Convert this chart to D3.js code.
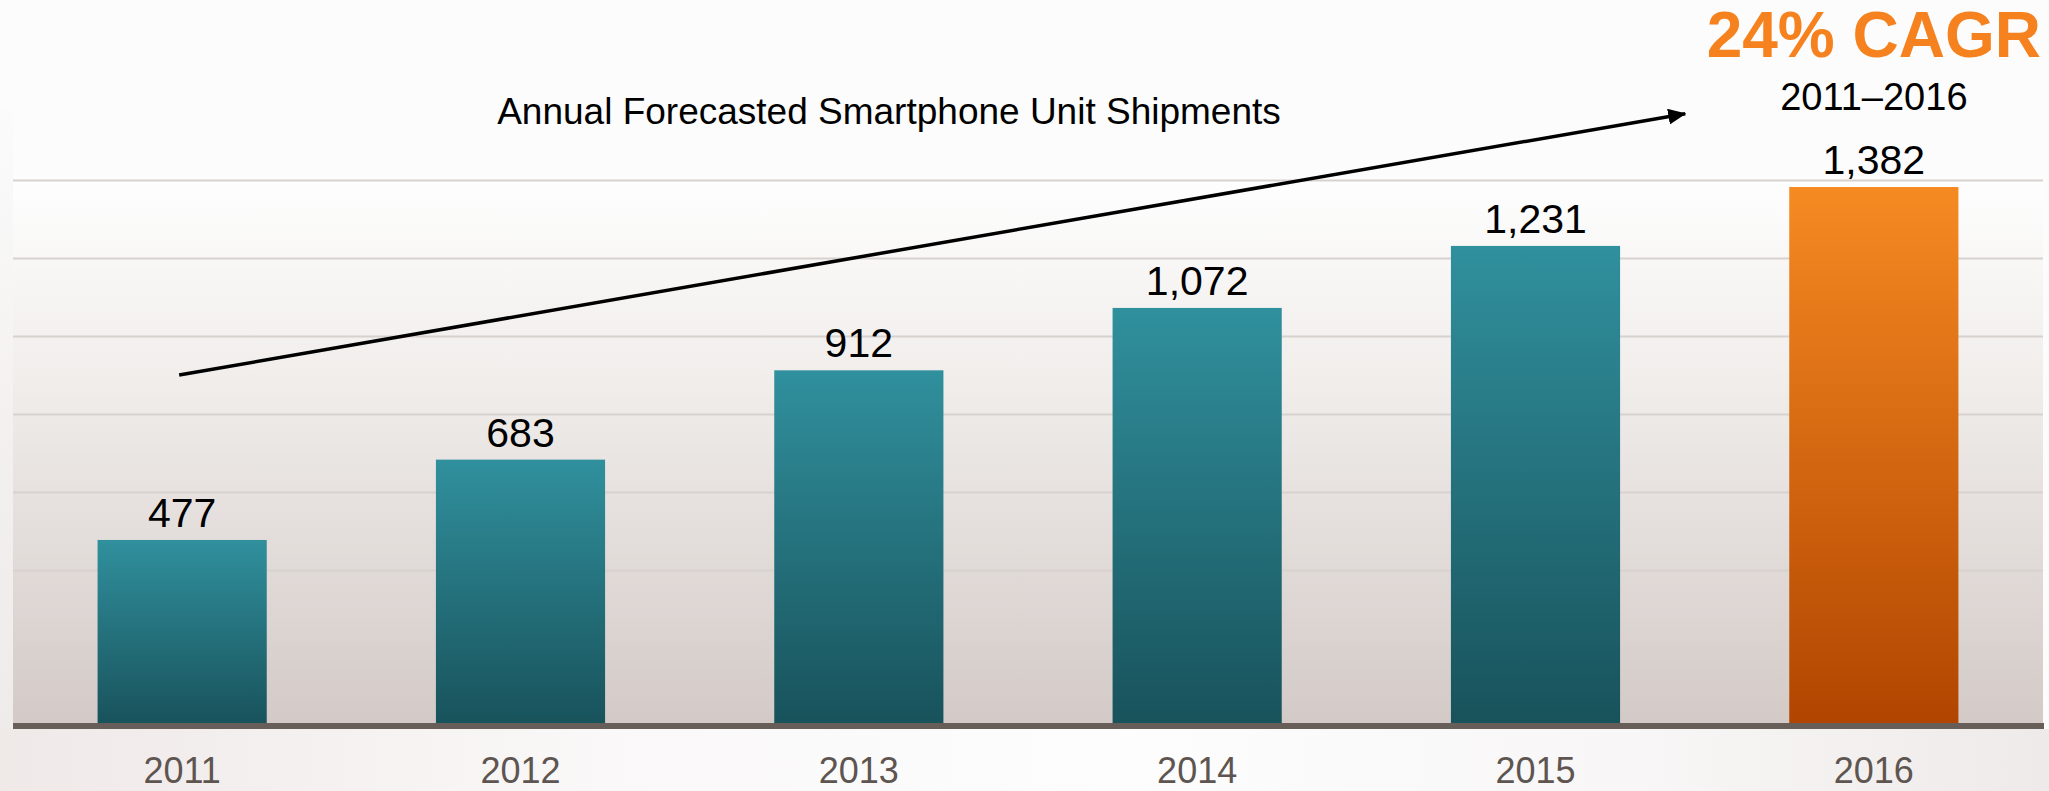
<!DOCTYPE html>
<html>
<head>
<meta charset="utf-8">
<script src="https://cdn.jsdelivr.net/npm/d3@7"></script>
<style>
  html, body { margin: 0; padding: 0; background: #fcfcfc; }
  svg { display: block; font-family: "Liberation Sans", Arial, Helvetica, sans-serif; }
</style>
</head>
<body>
<svg id="chart" width="2049" height="791"></svg>
<script>
// Annual forecasted smartphone unit shipments (millions)
const years = ["2011", "2012", "2013", "2014", "2015", "2016"];
const shipments = [477, 683, 912, 1072, 1231, 1382];
const gridTicks = [200, 400, 600, 800, 1000, 1200, 1400];
const highlightYear = "2016";
const chartTitle = "Annual Forecasted Smartphone Unit Shipments";
const cagrLabel = "24% CAGR";
const cagrPeriod = "2011\u20132016";
// growth arrow runs from 2011 at 900 up to 1570 near 2016
const arrowFrom = ["2011", 900];
const arrowTo = ["2016", 1570];

const W = 2049, H = 791;
const plotLeft = 13, plotRight = 2043, plotTop = 180, plotBottom = 726;

const svg = d3.select("#chart");
const defs = svg.append("defs");

const x = d3.scaleBand().domain(years).range([plotLeft, plotRight])
  .paddingInner(0.5).paddingOuter(0.25);
const y = d3.scaleLinear().domain([0, 1400]).range([plotBottom, plotTop]);

// gradients
function linGrad(id, stops, horizontal) {
  const g = defs.append("linearGradient").attr("id", id)
    .attr("x1", 0).attr("y1", 0)
    .attr("x2", horizontal ? 1 : 0).attr("y2", horizontal ? 0 : 1);
  stops.forEach(s => g.append("stop").attr("offset", s[0]).attr("stop-color", s[1]));
}
linGrad("plotBg", [[0, "#fefefe"], [0.35, "#f1eeec"], [1, "#d3cac7"]]);
linGrad("floorBg", [[0, "#efe9e8"], [0.3, "#faf8f8"], [0.55, "#fdfdfd"], [0.8, "#f8f6f6"], [1, "#eeeae9"]], true);
linGrad("sideBg", [[0, "#fbfbfb"], [0.5, "#f2f0ef"], [1, "#eeeae9"]]);
linGrad("tealBar", [[0, "#30909d"], [1, "#18525b"]]);
linGrad("orangeBar", [[0, "#f68a22"], [1, "#b14500"]]);

// background
svg.append("rect").attr("width", W).attr("height", H).attr("fill", "#fcfcfc");
svg.append("rect").attr("x", 0).attr("y", 110).attr("width", plotLeft).attr("height", H - 110)
  .attr("fill", "url(#sideBg)");
svg.append("rect").attr("x", plotLeft).attr("y", plotTop)
  .attr("width", plotRight - plotLeft).attr("height", plotBottom - plotTop)
  .attr("fill", "url(#plotBg)");
svg.append("rect").attr("x", 0).attr("y", plotBottom + 3)
  .attr("width", W).attr("height", H - plotBottom - 3)
  .attr("fill", "url(#floorBg)");

// horizontal gridlines
const yAxis = d3.axisLeft(y).tickValues(gridTicks)
  .tickSize(-(plotRight - plotLeft)).tickFormat("");
const grid = svg.append("g").attr("transform", `translate(${plotLeft},0)`).call(yAxis);
grid.select(".domain").remove();
grid.selectAll(".tick line").attr("stroke", "#d8d2cf").attr("stroke-width", 2);

// bars
const data = years.map((yr, i) => ({ year: yr, value: shipments[i] }));
svg.append("g").selectAll("rect").data(data).join("rect")
  .attr("x", d => x(d.year))
  .attr("y", d => y(d.value))
  .attr("width", x.bandwidth())
  .attr("height", d => y(0) - y(d.value))
  .attr("fill", d => d.year === highlightYear ? "url(#orangeBar)" : "url(#tealBar)");

// baseline
svg.append("rect").attr("x", plotLeft).attr("y", y(0) - 3)
  .attr("width", plotRight - plotLeft + 1).attr("height", 6).attr("fill", "#675e5a");

// value labels
const fmt = d3.format(",");
svg.append("g").selectAll("text").data(data).join("text")
  .attr("x", d => x(d.year) + x.bandwidth() / 2)
  .attr("y", d => y(d.value) - 13)
  .attr("text-anchor", "middle")
  .attr("font-size", 41)
  .attr("fill", "#000")
  .text(d => fmt(d.value));

// category axis
const xAxis = d3.axisBottom(x).tickSize(0).tickPadding(0);
const xg = svg.append("g").attr("transform", `translate(0,${y(0)})`).call(xAxis);
xg.select(".domain").remove();
xg.selectAll(".tick text")
  .attr("y", 57).attr("dy", 0)
  .attr("font-size", 36)
  .attr("font-family", "'Liberation Sans', Arial, sans-serif")
  .attr("fill", "#5e5551");

// title
svg.append("text")
  .attr("x", 889).attr("y", 124)
  .attr("text-anchor", "middle")
  .attr("font-size", 37)
  .attr("fill", "#000")
  .text(chartTitle);

// growth arrow
defs.append("marker").attr("id", "arrowHead")
  .attr("markerUnits", "userSpaceOnUse")
  .attr("viewBox", "0 0 18 16").attr("refX", 17).attr("refY", 8)
  .attr("markerWidth", 18).attr("markerHeight", 16)
  .attr("orient", "auto")
  .append("path").attr("d", "M0,0 L18,8 L0,16 Z").attr("fill", "#000");

const ax1 = x(arrowFrom[0]) + x.bandwidth() / 2 - 3;
const ax2 = x(arrowTo[0]) - 104;
svg.append("line")
  .attr("x1", ax1).attr("y1", y(arrowFrom[1]))
  .attr("x2", ax2).attr("y2", y(arrowTo[1]))
  .attr("stroke", "#000").attr("stroke-width", 3.5)
  .attr("marker-end", "url(#arrowHead)");

// CAGR callout over the highlighted bar
const hx = x(highlightYear) + x.bandwidth() / 2;
svg.append("text")
  .attr("x", hx).attr("y", 57)
  .attr("text-anchor", "middle")
  .attr("font-size", 64).attr("font-weight", "bold")
  .attr("fill", "#f5821f")
  .text(cagrLabel);
svg.append("text")
  .attr("x", hx).attr("y", 110)
  .attr("text-anchor", "middle")
  .attr("font-size", 38)
  .attr("fill", "#000")
  .text(cagrPeriod);
</script>
</body>
</html>
